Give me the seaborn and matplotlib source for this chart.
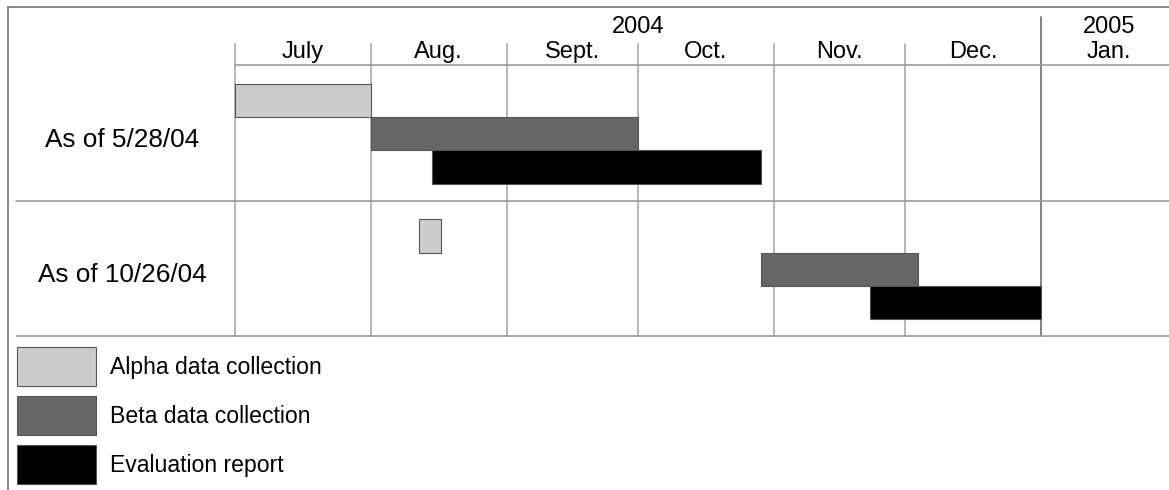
import datetime as dt

import matplotlib.pyplot as plt
import matplotlib.dates as mdates
import matplotlib.transforms as mtransforms
from matplotlib.lines import Line2D
import seaborn as sns

# schedule data
tasks = ["Alpha data collection", "Beta data collection", "Evaluation report"]
task_colors = ["#cccccc", "#666666", "#000000"]
plans = ["As of 5/28/04", "As of 10/26/04"]
starts_may = ["2004-07-01", "2004-08-01", "2004-08-15"]
ends_may = ["2004-08-01", "2004-10-01", "2004-10-29"]
starts_oct = ["2004-08-12", "2004-10-29", "2004-11-23"]
ends_oct = ["2004-08-17", "2004-12-04", "2005-01-01"]
month_labels = ["July", "Aug.", "Sept.", "Oct.", "Nov.", "Dec.", "Jan."]
month_starts = ["2004-07-01", "2004-08-01", "2004-09-01", "2004-10-01",
                "2004-11-01", "2004-12-01", "2005-01-01", "2005-02-01"]
years = ["2004", "2005"]

sns.set_style("white")
plt.rcParams['font.family'] = ['Liberation Sans', 'DejaVu Sans']
plt.rcParams['text.color'] = 'black'


def num(s):
    return mdates.date2num(dt.datetime.strptime(s, "%Y-%m-%d"))


W, H = 1169, 490
fig = plt.figure(figsize=(W / 100, H / 100), dpi=100)
left, right, top, bottom = 235, 1169, 65, 336
ax = fig.add_axes([left / W, 1 - bottom / H, (right - left) / W, (bottom - top) / H])

x0 = num("2004-07-01")
px_per_day = (1041 - 235) / (num("2005-01-01") - x0)
ax.set_xlim(x0, x0 + (right - left) / px_per_day)
ax.set_ylim(2, 0)
ax.set_xticks([])
ax.set_yticks([])
for sp in ax.spines.values():
    sp.set_visible(False)

# bars
bar_h = 0.245
offset = 0.14
for r, (st, en) in enumerate([(starts_may, ends_may), (starts_oct, ends_oct)]):
    for k in range(len(tasks)):
        y = r + offset + bar_h * (k + 0.5)
        ax.barh(y, num(en[k]) - num(st[k]), left=num(st[k]), height=bar_h,
                color=task_colors[k], edgecolor="#555555", linewidth=0.8,
                label=tasks[k] if r == 0 else None, zorder=3)

axh = bottom - top
# month grid
for i, m in enumerate(month_starts[:-1]):
    if m == "2005-01-01":
        ax.axvline(num(m), ymin=0, ymax=1 + (top - 17) / axh, color="#777777",
                   linewidth=1.3, clip_on=False, zorder=2)
    else:
        ax.axvline(num(m), ymin=0, ymax=1 + (top - 44) / axh, color="#aaaaaa",
                   linewidth=1.2, clip_on=False, zorder=2)

# horizontal rules
ax.axhline(0, xmin=0, xmax=1, color="#999999", linewidth=1.2, clip_on=False)
ax.axhline(1, xmin=-(left - 16) / (right - left), xmax=1, color="#999999",
           linewidth=1.2, clip_on=False)
ax.axhline(2, xmin=-(left - 17) / (right - left), xmax=1, color="#999999",
           linewidth=1.2, clip_on=False)

# header text
tr_x = mtransforms.blended_transform_factory(ax.transData, ax.transAxes)
fs_head = 17
for i, lab in enumerate(month_labels):
    a, b = num(month_starts[i]), num(month_starts[i + 1])
    ax.text((a + b) / 2, 1 + (top - 52) / axh, lab, transform=tr_x,
            ha="center", va="center", fontsize=fs_head)
ax.text((num("2004-07-01") + num("2005-01-01")) / 2, 1 + (top - 27) / axh, years[0],
        transform=tr_x, ha="center", va="center", fontsize=fs_head)
ax.text((num("2005-01-01") + num("2005-02-01")) / 2, 1 + (top - 27) / axh, years[1],
        transform=tr_x, ha="center", va="center", fontsize=fs_head)

# row labels
tr_y = mtransforms.blended_transform_factory(ax.transAxes, ax.transData)
for r, lab in enumerate(plans):
    ax.text((122 - left) / (right - left), r + 0.55, lab, transform=tr_y,
            ha="center", va="center", fontsize=18.8)

# legend
fs = 16.6
pt = 72 / 100  # points per pixel
hh = (39 * pt / fs - 0.245) / 0.65
ax.legend(loc="upper left", bbox_to_anchor=(17 / W, 1 - 347 / H),
          bbox_transform=fig.transFigure, frameon=False, fontsize=fs,
          handlelength=79 * pt / fs, handleheight=hh, labelspacing=10 * pt / fs,
          handletextpad=14 * pt / fs, borderpad=0, borderaxespad=0,
          labelcolor="black")

# outer frame
fig.add_artist(Line2D([8 / W, 1], [1 - 7 / H, 1 - 7 / H], color="#777777", linewidth=1.2))
fig.add_artist(Line2D([8 / W, 8 / W], [0, 1 - 7 / H], color="#777777", linewidth=1.2))

plt.savefig("out.png", dpi=100)
